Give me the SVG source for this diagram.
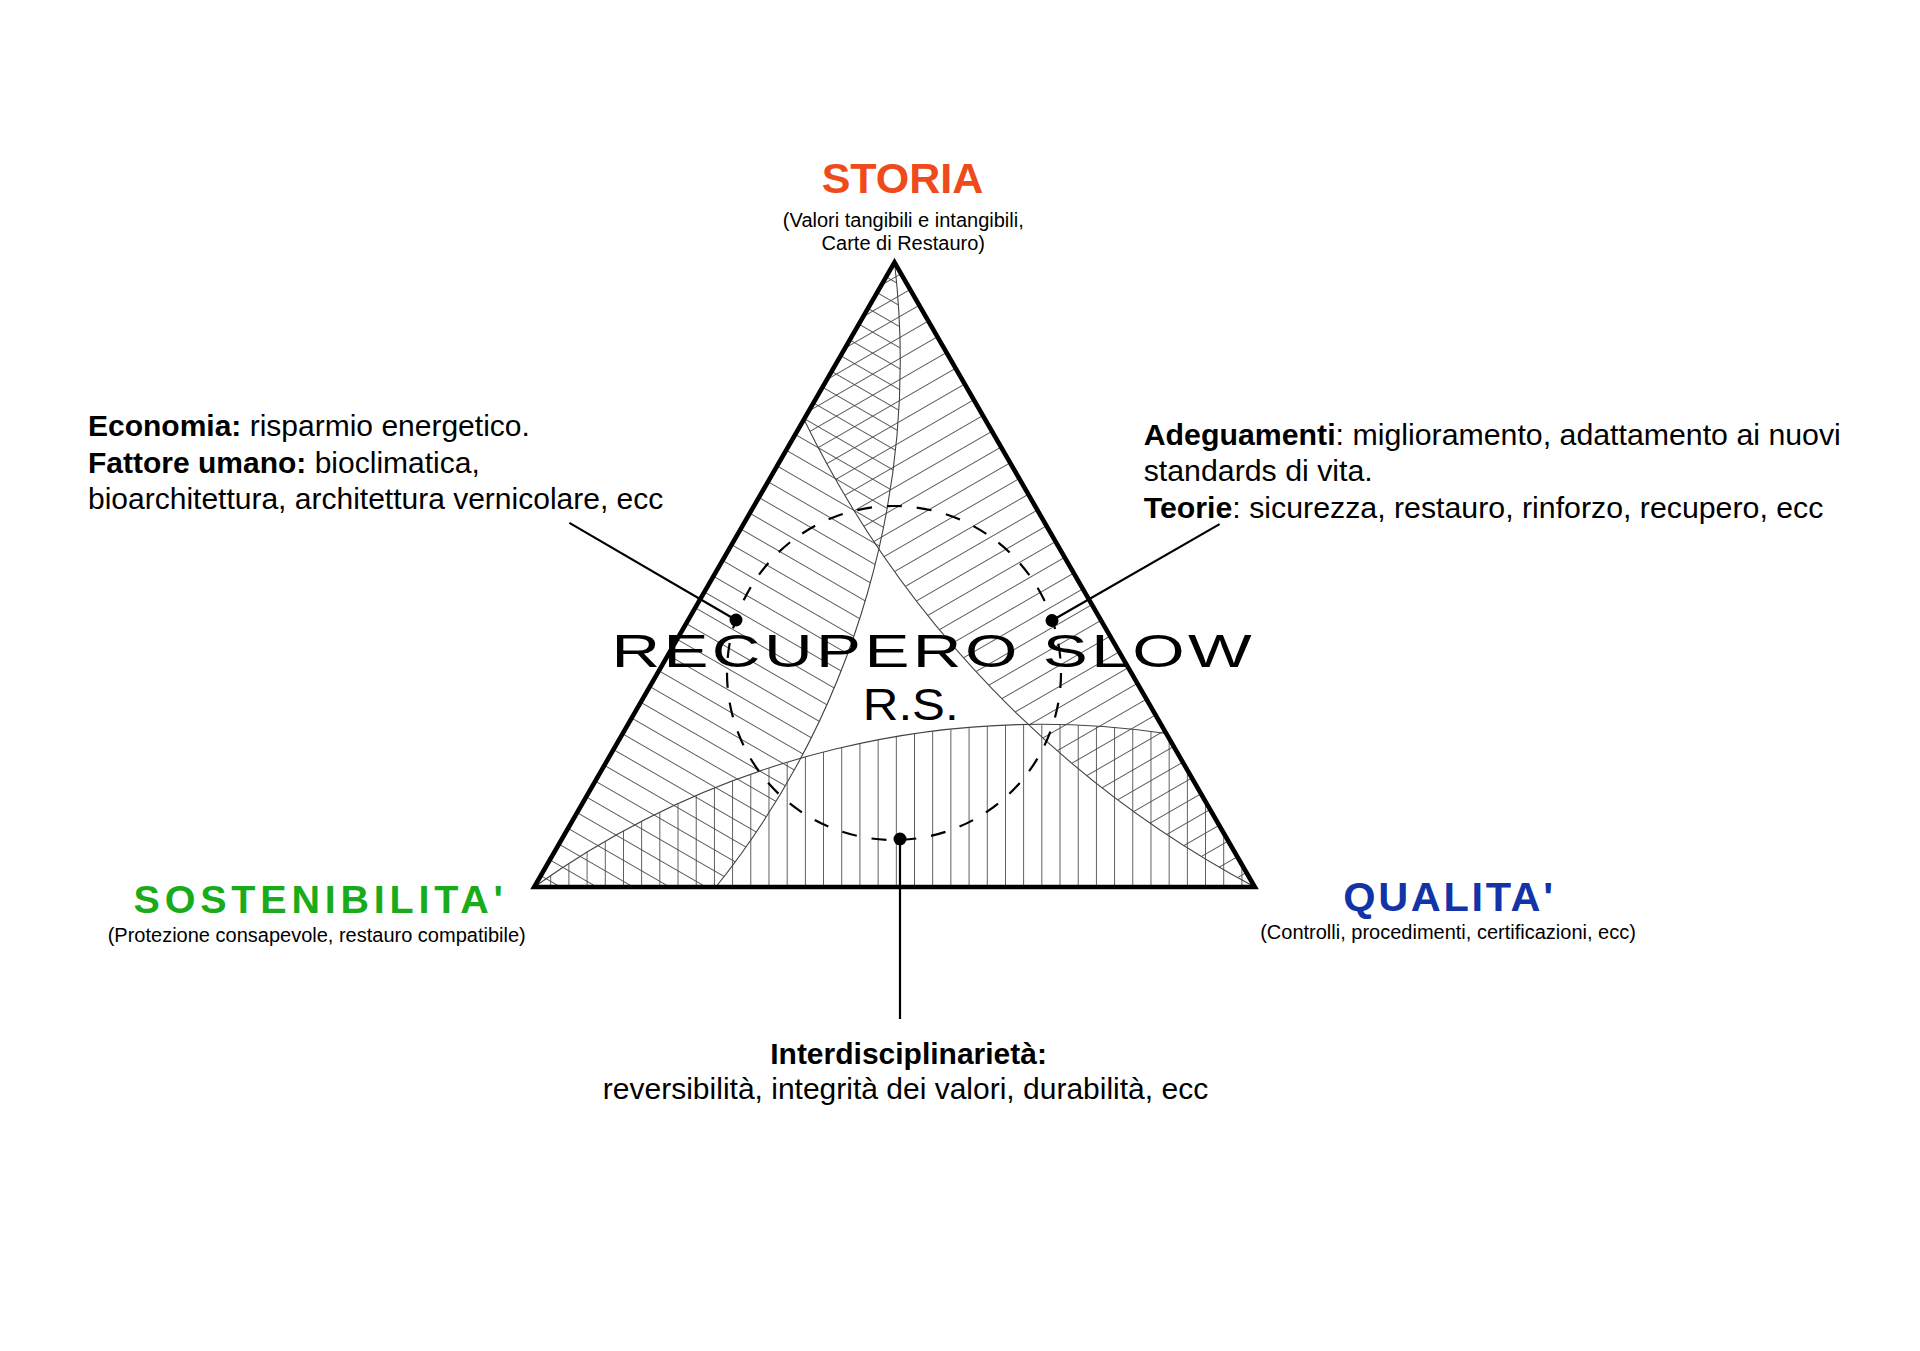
<svg xmlns="http://www.w3.org/2000/svg" width="1920" height="1351" viewBox="0 0 1920 1351">
<style>
text{font-family:"Liberation Sans",Arial,Helvetica,sans-serif;fill:#000}
.t{font-weight:bold}
.sub{font-size:20px}
.body{font-size:30px}
.b{font-weight:bold}
.storia{fill:#ee4a1b}
.sost{fill:#1aab1a}
.qual{fill:#1234a6}
.arc{fill:none;stroke:#444;stroke-width:1.1}
.lead{fill:none;stroke:#000;stroke-width:2.2}
.dot{fill:#000}
</style>
<defs>
<pattern id="hv" patternUnits="userSpaceOnUse" x="541.6" y="0" width="18.19" height="40">
<line x1="9.1" y1="-1" x2="9.1" y2="41" stroke="#4a4a4a" stroke-width="0.9"/>
</pattern>
<pattern id="ha" href="#hv" patternTransform="rotate(120 894.5 678.7)"/>
<pattern id="hb" href="#hv" patternTransform="rotate(-120 894.5 678.7)"/>
</defs>
<rect width="1920" height="1351" fill="#fff"/>

<g id="recupero-slow">
<path d="M894.5 262.3 A845 845 0 0 1 715.9 887 L534.2 887 Z" fill="url(#ha)"/>
<path d="M1254.8 887 A1050 1050 0 0 1 803.9 419.3 L894.5 262.3 Z" fill="url(#hb)"/>
<path d="M534.2 887 A871 871 0 0 1 1166.2 733.5 L1254.8 887 Z" fill="url(#hv)"/>
<path class="arc" d="M894.5 262.3 A845 845 0 0 1 715.9 887"/>
<path class="arc" d="M1254.8 887 A1050 1050 0 0 1 803.9 419.3"/>
<path class="arc" d="M534.2 887 A871 871 0 0 1 1166.2 733.5"/>
<text transform="translate(611.4 667.3) scale(1.45 1)" font-size="46.5" letter-spacing="2.35">RECUPERO SLOW</text>
<text transform="translate(862.8 719.5) scale(1.12 1)" font-size="44">R.S.</text>
<circle cx="894" cy="673" r="167" fill="none" stroke="#000" stroke-width="2.2" stroke-dasharray="15 14.98"/>
<path d="M894.5 262.3 L1254.8 887 L534.2 887 Z" fill="none" stroke="#000" stroke-width="4.6" stroke-linejoin="miter" stroke-miterlimit="10"/>
</g>

<g id="connectors">
<path class="lead" d="M569.4 522.9 L736 620"/>
<path class="lead" d="M1052 620.5 L1219.6 524.1"/>
<path class="lead" d="M900 839 L900 1019"/>
<circle class="dot" cx="736" cy="620" r="6.5"/>
<circle class="dot" cx="1052" cy="620.5" r="6.5"/>
<circle class="dot" cx="900" cy="839" r="6.5"/>
</g>

<g id="storia">
<text class="t storia" x="902.5" y="192.7" font-size="43" text-anchor="middle">STORIA</text>
<text class="sub" x="903.3" y="226.5" text-anchor="middle">(Valori tangibili e intangibili,</text>
<text class="sub" x="903.3" y="250" text-anchor="middle">Carte di Restauro)</text>
</g>

<g id="sostenibilita">
<text class="t sost" x="133.5" y="913.3" font-size="39.5" letter-spacing="4.8">SOSTENIBILITA'</text>
<text class="sub" x="316.7" y="941.7" text-anchor="middle">(Protezione consapevole, restauro compatibile)</text>
</g>

<g id="qualita">
<text class="t qual" x="1343.2" y="910.7" font-size="41.5" letter-spacing="2.67">QUALITA'</text>
<text class="sub" x="1448" y="939.3" text-anchor="middle">(Controlli, procedimenti, certificazioni, ecc)</text>
</g>

<g id="economia-note">
<text class="body" x="88" y="436"><tspan class="b">Economia:</tspan> risparmio energetico.</text>
<text class="body" x="88" y="472.5"><tspan class="b">Fattore umano:</tspan> bioclimatica,</text>
<text class="body" x="88" y="509">bioarchitettura, architettura vernicolare, ecc</text>
</g>

<g id="adeguamenti-note">
<text class="body" x="1143.7" y="444.6" font-size="30.3" style="font-size:30.3px"><tspan class="b">Adeguamenti</tspan>: miglioramento, adattamento ai nuovi</text>
<text class="body" x="1143.7" y="481" style="font-size:30.3px">standards di vita.</text>
<text class="body" x="1143.7" y="517.5" style="font-size:30.3px"><tspan class="b">Teorie</tspan>: sicurezza, restauro, rinforzo, recupero, ecc</text>
</g>

<g id="interdisciplinarieta-note">
<text class="body b" x="908.6" y="1064" text-anchor="middle">Interdisciplinarietà:</text>
<text class="body" x="905.5" y="1098.5" text-anchor="middle">reversibilità, integrità dei valori, durabilità, ecc</text>
</g>
</svg>
